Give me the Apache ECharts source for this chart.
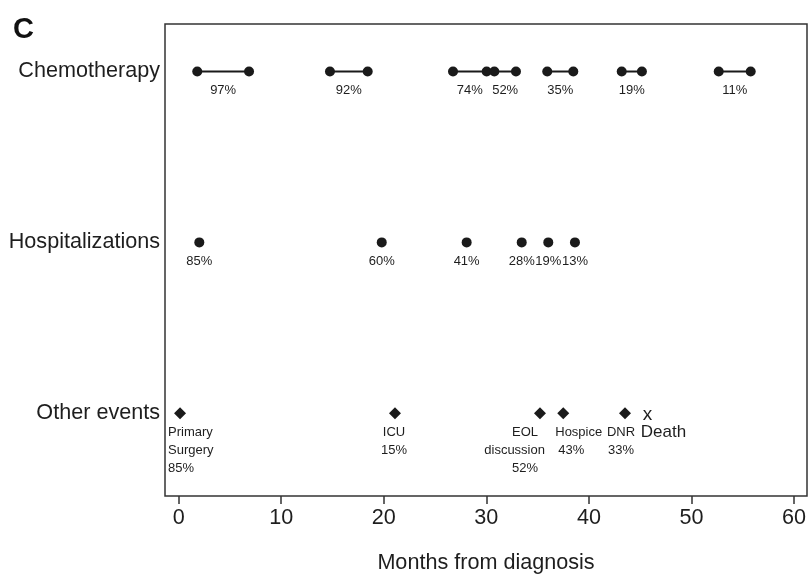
<!DOCTYPE html>
<html>
<head>
<meta charset="utf-8">
<script src="https://cdn.jsdelivr.net/npm/echarts@6/dist/echarts.min.js"></script>
<style>
html,body{margin:0;padding:0;background:#fff;}
#c{width:812px;height:579px;}
</style>
</head>
<body>
<div id="c"></div>
<script>
// ---- data ----
var rowNames = ['Other events', 'Hospitalizations', 'Chemotherapy']; // y = 1,2,3
var xTicks = [0, 10, 20, 30, 40, 50, 60];

var chemoStart = [1.81, 14.75, 26.75, 30.78, 35.94, 43.20, 52.66];
var chemoEnd   = [6.86, 18.43, 30.03, 32.89, 38.48, 45.17, 55.78];
var chemoPct   = ['97%', '92%', '74%', '52%', '35%', '19%', '11%'];

var hospX   = [2.01, 19.80, 28.08, 33.45, 36.04, 38.64];
var hospPct = ['85%', '60%', '41%', '28%', '19%', '13%'];

var otherX      = [0.13, 21.09, 35.23, 37.50, 43.52];
var otherLabels = ['Primary\nSurgery\n85%', 'ICU\n15%', 'EOL\ndiscussion\n52%', 'Hospice\n43%', 'DNR\n33%'];

var deathX = 45.64;
var deathLabel = 'Death';

// ---- chart ----
var FONT = 'Liberation Sans';
var TXT = '#1e1e1e';
var MARK = '#1a1a1a';
var chart = echarts.init(document.getElementById('c'), null, {renderer: 'canvas'});

var series = [];
// chemo segments
for (var i = 0; i < chemoStart.length; i++) {
  series.push({
    type: 'line',
    data: [[chemoStart[i], 3], [chemoEnd[i], 3]],
    symbol: 'circle', symbolSize: 10,
    itemStyle: {color: MARK, opacity: 1},
    lineStyle: {color: MARK, width: 2},
    animation: false, silent: true, z: 3
  });
}
// chemo labels at segment midpoints
series.push({
  type: 'scatter',
  data: chemoStart.map(function (s, i) { return {value: [(s + chemoEnd[i]) / 2, 3], name: chemoPct[i]}; }),
  symbolSize: 0,
  itemStyle: {color: 'rgba(0,0,0,0)'},
  label: {show: true, position: 'inside', offset: [0, 19], formatter: '{b}',
          color: TXT, opacity: 1, fontFamily: FONT, fontSize: 13},
  animation: false, silent: true
});
// hospitalizations
series.push({
  type: 'scatter',
  data: hospX.map(function (x, i) { return {value: [x, 2], name: hospPct[i]}; }),
  symbol: 'circle', symbolSize: 10,
  itemStyle: {color: MARK, opacity: 1},
  label: {show: true, position: 'inside', offset: [0, 19], formatter: '{b}',
          color: TXT, opacity: 1, fontFamily: FONT, fontSize: 13},
  animation: false, silent: true
});
// other events
var otherLabelStyle = [
  {align: 'left', offset: [-12, 10]},
  {align: 'center', offset: [-1, 10]},
  {align: 'right', offset: [5, 10], rich: true},
  {align: 'left', offset: [-8, 10], rich2: true},
  {align: 'center', offset: [-4, 10]}
];
series.push({
  type: 'scatter',
  data: otherX.map(function (x, i) {
    var st = otherLabelStyle[i];
    var text = otherLabels[i];
    var lab = {show: true, position: 'inside', align: st.align, verticalAlign: 'top', opacity: 1,
               offset: st.offset, color: TXT, fontFamily: FONT, fontSize: 13, lineHeight: 18};
    if (st.rich) {
      var parts = text.split('\n');
      lab.formatter = '{a|' + parts[0] + '}\n{b|' + parts[1] + '}\n{a|' + parts[2] + '}';
      lab.rich = {
        a: {padding: [0, 7, 0, 0], fontFamily: FONT, fontSize: 13, lineHeight: 18, color: TXT},
        b: {fontFamily: FONT, fontSize: 13, lineHeight: 18, color: TXT}
      };
    } else if (st.rich2) {
      var p2 = text.split('\n');
      lab.formatter = '{b|' + p2[0] + '}\n{a|' + p2[1] + '}';
      lab.rich = {
        a: {padding: [0, 0, 0, 3], fontFamily: FONT, fontSize: 13, lineHeight: 18, color: TXT},
        b: {fontFamily: FONT, fontSize: 13, lineHeight: 18, color: TXT}
      };
    } else {
      lab.formatter = text;
    }
    return {value: [x, 1], label: lab};
  }),
  symbol: 'diamond', symbolSize: 12,
  itemStyle: {color: MARK, opacity: 1},
  animation: false, silent: true
});
// death
series.push({
  type: 'scatter',
  data: [{value: [deathX, 1], name: deathLabel}],
  symbolSize: 0,
  itemStyle: {color: 'rgba(0,0,0,0)'},
  label: {show: true, position: 'inside', align: 'left', verticalAlign: 'top', offset: [-6, -7], opacity: 1,
          formatter: '{x|x}\n{d|' + deathLabel + '}',
          rich: {
            x: {fontFamily: FONT, fontSize: 19, lineHeight: 17, color: TXT, padding: [0, 0, 0, 2]},
            d: {fontFamily: FONT, fontSize: 17, lineHeight: 18, color: TXT}
          }},
  animation: false, silent: true
});

chart.setOption({
  backgroundColor: '#fff',
  animation: false,
  title: {text: 'C', left: 8, top: 10, textStyle: {fontFamily: FONT, fontSize: 29, fontWeight: 'bold', color: '#111'}},
  grid: {left: 165, right: 5, top: 24, bottom: 81, show: true, borderColor: '#333', borderWidth: 1.5, backgroundColor: 'transparent'},
  xAxis: {
    type: 'value', min: -1.336, max: 61.27,
    name: 'Months from diagnosis', nameLocation: 'middle', nameGap: 56,
    nameTextStyle: {fontFamily: FONT, fontSize: 21.6, color: TXT},
    axisLine: {show: false},
    splitLine: {show: false},
    axisTick: {show: true, length: 8, lineStyle: {color: '#333', width: 1.5}, customValues: xTicks},
    axisLabel: {show: true, margin: 11, fontFamily: FONT, fontSize: 21.6, color: TXT, customValues: xTicks,
                formatter: function (v) { return String(v); }}
  },
  yAxis: {
    type: 'value', min: 0.516, max: 3.278,
    axisLine: {show: false},
    splitLine: {show: false},
    axisTick: {show: false},
    axisLabel: {show: true, margin: 5, fontFamily: FONT, fontSize: 21.6, color: TXT, customValues: [1, 2, 3],
                formatter: function (v) { return rowNames[Math.round(v) - 1]; }}
  },
  series: series
});
</script>
</body>
</html>
